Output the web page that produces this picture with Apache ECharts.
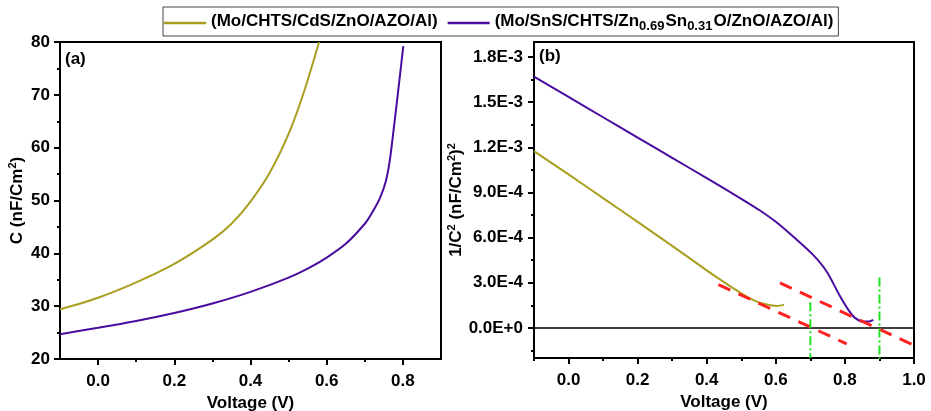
<!DOCTYPE html>
<html><head><meta charset="utf-8">
<script src="https://cdn.jsdelivr.net/npm/echarts@6/dist/echarts.min.js"></script>
<style>html,body{margin:0;padding:0;background:#fff}#c{width:931px;height:411px}</style>
</head><body><div id="c"></div>
<script>
// Panel (a): C-V
const aX_CdS = [-0.1, 0.0, 0.1, 0.2, 0.3, 0.35, 0.4, 0.45, 0.5, 0.54, 0.58];
const aC_CdS = [29.4, 31.6, 34.5, 38.0, 42.6, 45.6, 49.8, 55.2, 62.6, 70.5, 80.0];
const aX_SnS = [-0.1, 0.0, 0.1, 0.2, 0.3, 0.4, 0.5, 0.55, 0.6, 0.65, 0.7, 0.72, 0.74, 0.755, 0.765, 0.775, 0.788, 0.801];
const aC_SnS = [24.7, 25.9, 27.2, 28.7, 30.5, 32.7, 35.4, 37.1, 39.2, 41.8, 45.6, 47.8, 50.5, 53.6, 57.3, 63.0, 71.0, 79.2];
// Panel (b): 1/C^2 - V
const bX_CdS = [-0.1, 0.0, 0.1, 0.2, 0.3, 0.4, 0.45, 0.5, 0.54, 0.574, 0.603, 0.624];
const bY_CdS = [1.175e-3, 1.02e-3, 8.62e-4, 7.05e-4, 5.45e-4, 3.82e-4, 3.04e-4, 2.3e-4, 1.8e-4, 1.55e-4, 1.46e-4, 1.53e-4];
const bX_SnS = [-0.1, 0.0, 0.1, 0.2, 0.3, 0.4, 0.5, 0.554, 0.6, 0.651, 0.708, 0.747, 0.786, 0.81, 0.83, 0.853, 0.87, 0.882];
const bY_SnS = [1.67e-3, 1.535e-3, 1.40e-3, 1.265e-3, 1.13e-3, 9.95e-4, 8.58e-4, 7.8e-4, 7.05e-4, 6.05e-4, 4.85e-4, 3.75e-4, 2.1e-4, 1.2e-4, 6.5e-5, 4.2e-5, 4.3e-5, 5.3e-5];
// Tangent (extrapolation) lines and intercept markers
const tanCdS_X = [0.434, 0.805];
const tanCdS_Y = [2.88e-4, -1.06e-4];
const tanSnS_X = [0.612, 1.0];
const tanSnS_Y = [2.99e-4, -1.16e-4];
const vbiCdS_X = [0.7, 0.7];
const vbiCdS_Y = [1.7e-4, -2e-4];
const vbiSnS_X = [0.9, 0.9];
const vbiSnS_Y = [3.35e-4, -2.1e-4];
const zeroX = [-0.1, 1.0];
const zeroY = [0, 0];
// Ticks
const aXLabels = [0.0, 0.2, 0.4, 0.6, 0.8];
const aXMinor = [0.1, 0.3, 0.5, 0.7];
const bXLabels = [0.0, 0.2, 0.4, 0.6, 0.8, 1.0];
const bXMinor = [-0.1, 0.1, 0.3, 0.5, 0.7, 0.9];
const bYLabels = [0, 3e-4, 6e-4, 9e-4, 1.2e-3, 1.5e-3, 1.8e-3];
const bYMinor = [-1.5e-4, 1.5e-4, 4.5e-4, 7.5e-4, 1.05e-3, 1.35e-3, 1.65e-3];

const NAME1 = '(Mo/CHTS/CdS/ZnO/AZO/Al)';
const NAME2 = '(Mo/SnS/CHTS/Zn0.69Sn0.31O/ZnO/AZO/Al)';
const OLIVE = '#a99f1f';
const PURPLE = '#4a0c9f';
const FONT = 'Liberation Sans, Arial, sans-serif';
const FS = 17;

const zip = (xs, ys) => xs.map((x, i) => [x, ys[i]]);
function sci(v) {
  if (Math.abs(v) < 1e-12) return '0.0E+0';
  let e = Math.floor(Math.log10(Math.abs(v)) + 1e-9);
  let m = v / Math.pow(10, e);
  return m.toFixed(1) + 'E' + (e < 0 ? '-' : '+') + Math.abs(e);
}
const lbl = {fontFamily: FONT, fontWeight: 'bold', fontSize: FS, color: '#000'};
const axLine = {show: true, onZero: false, lineStyle: {color: '#000', width: 2}};
const noLine = {show: false, onZero: false};
const supRich = {
  n: Object.assign({lineHeight: 20}, lbl),
  p: {fontFamily: FONT, fontWeight: 'bold', fontSize: 11, lineHeight: 11, verticalAlign: 'top', color: '#000'}
};

const chart = echarts.init(document.getElementById('c'), null, {renderer: 'canvas'});
chart.setOption({
  animation: false,
  backgroundColor: '#fff',
  legend: {
    left: 163, top: 7,
    padding: [3, 5, 3, 1],
    itemGap: 10,
    itemWidth: 42, itemHeight: 2.5,
    borderColor: '#444', borderWidth: 1,
    data: [{name: NAME1, icon: 'rect'}, {name: NAME2, icon: 'rect'}],
    formatter: function (n) {
      if (n === NAME1) return '{n|' + NAME1 + '}';
      return '{n|(Mo/SnS/CHTS/Zn}{s|0.69}{n|Sn}{s|0.31}{n|O/ZnO/AZO/Al)}';
    },
    textStyle: Object.assign({
      rich: {
        n: Object.assign({lineHeight: 20, verticalAlign: 'top'}, lbl),
        s: {fontFamily: FONT, fontWeight: 'bold', fontSize: 13, lineHeight: 12, verticalAlign: 'bottom', padding: [10, 1, 0, 0], color: '#000'}
      }
    }, lbl)
  },
  grid: [
    {left: 60, top: 42, width: 381, height: 317, outerBoundsMode: 'none', containLabel: false, show: true, borderColor: '#000', borderWidth: 2, backgroundColor: 'transparent'},
    {left: 534, top: 42, width: 380, height: 316, outerBoundsMode: 'none', containLabel: false, show: true, borderColor: '#000', borderWidth: 2, backgroundColor: 'transparent'}
  ],
  xAxis: [
    {gridIndex: 0, type: 'value', min: -0.1, max: 0.9, position: 'bottom',
     axisLine: axLine, splitLine: {show: false},
     axisTick: {show: true, length: 6, customValues: aXLabels, lineStyle: {width: 2, color: '#000'}},
     axisLabel: Object.assign({customValues: aXLabels, margin: 14, formatter: v => v.toFixed(1)}, lbl),
     name: 'Voltage (V)', nameLocation: 'middle', nameGap: 34, nameTextStyle: lbl},
    {gridIndex: 1, type: 'value', min: -0.1, max: 1.0, position: 'bottom',
     axisLine: axLine, splitLine: {show: false},
     axisTick: {show: true, length: 6, customValues: bXLabels, lineStyle: {width: 2, color: '#000'}},
     axisLabel: Object.assign({customValues: bXLabels, margin: 14, formatter: v => v.toFixed(1)}, lbl),
     name: 'Voltage (V)', nameLocation: 'middle', nameGap: 34, nameTextStyle: lbl},
    {gridIndex: 0, type: 'value', min: -0.1, max: 0.9, position: 'bottom',
     axisLine: noLine, splitLine: {show: false}, axisLabel: {show: false},
     axisTick: {show: true, length: 3, customValues: aXMinor, lineStyle: {width: 2, color: '#000'}}},
    {gridIndex: 1, type: 'value', min: -0.1, max: 1.0, position: 'bottom',
     axisLine: noLine, splitLine: {show: false}, axisLabel: {show: false},
     axisTick: {show: true, length: 3, customValues: bXMinor, lineStyle: {width: 2, color: '#000'}}}
  ],
  yAxis: [
    {gridIndex: 0, type: 'value', min: 20, max: 80, interval: 10, position: 'left',
     axisLine: axLine, splitLine: {show: false},
     axisTick: {show: true, length: 6, lineStyle: {width: 2, color: '#000'}},
     minorTick: {show: true, splitNumber: 2, length: 3, lineStyle: {width: 2, color: '#000'}},
     axisLabel: Object.assign({margin: 10}, lbl),
     name: '{n|C (nF/Cm}{p|2}{n|)}', nameLocation: 'middle', nameGap: 33,
     nameTextStyle: Object.assign({rich: supRich}, lbl)},
    {gridIndex: 1, type: 'value', min: -2e-4, max: 1.9e-3, position: 'left',
     axisLine: axLine, splitLine: {show: false},
     axisTick: {show: true, length: 6, customValues: bYLabels, lineStyle: {width: 2, color: '#000'}},
     axisLabel: Object.assign({customValues: bYLabels, margin: 11, formatter: sci}, lbl),
     name: '{n|1/C}{p|2}{n| (nF/Cm}{p|2}{n|)}{p|2}', nameLocation: 'middle', nameGap: 68,
     nameTextStyle: Object.assign({rich: supRich}, lbl)},
    {gridIndex: 1, type: 'value', min: -2e-4, max: 1.9e-3, position: 'left',
     axisLine: noLine, splitLine: {show: false}, axisLabel: {show: false},
     axisTick: {show: true, length: 3, customValues: bYMinor, lineStyle: {width: 2, color: '#000'}}}
  ],
  graphic: [
    {type: 'text', left: 65, top: 51, style: {text: '(a)', font: 'bold 17px ' + FONT, fill: '#000'}},
    {type: 'text', left: 539, top: 48, style: {text: '(b)', font: 'bold 17px ' + FONT, fill: '#000'}}
  ],
  series: [
    {name: NAME1, type: 'line', xAxisIndex: 0, yAxisIndex: 0, data: zip(aX_CdS, aC_CdS), smooth: 0.3,
     symbol: 'none', lineStyle: {color: OLIVE, width: 2}, itemStyle: {color: OLIVE}},
    {name: NAME2, type: 'line', xAxisIndex: 0, yAxisIndex: 0, data: zip(aX_SnS, aC_SnS), smooth: 0.3,
     symbol: 'none', lineStyle: {color: PURPLE, width: 2}, itemStyle: {color: PURPLE}},
    {type: 'line', xAxisIndex: 1, yAxisIndex: 1, data: zip(zeroX, zeroY), symbol: 'none',
     lineStyle: {color: '#000', width: 1.5}},
    {name: NAME1, type: 'line', xAxisIndex: 1, yAxisIndex: 1, data: zip(bX_CdS, bY_CdS), smooth: 0.3,
     symbol: 'none', lineStyle: {color: OLIVE, width: 2}, itemStyle: {color: OLIVE}},
    {name: NAME2, type: 'line', xAxisIndex: 1, yAxisIndex: 1, data: zip(bX_SnS, bY_SnS), smooth: 0.3,
     symbol: 'none', lineStyle: {color: PURPLE, width: 2}, itemStyle: {color: PURPLE}},
    {type: 'line', xAxisIndex: 1, yAxisIndex: 1, data: zip(tanCdS_X, tanCdS_Y), symbol: 'none',
     lineStyle: {color: '#ff2020', width: 3, type: [13, 9]}},
    {type: 'line', xAxisIndex: 1, yAxisIndex: 1, data: zip(tanSnS_X, tanSnS_Y), symbol: 'none',
     lineStyle: {color: '#ff2020', width: 3, type: [13, 9]}},
    {type: 'line', xAxisIndex: 1, yAxisIndex: 1, data: zip(vbiCdS_X, vbiCdS_Y), symbol: 'none',
     lineStyle: {color: '#22e022', width: 2, type: [9, 3, 2, 3]}},
    {type: 'line', xAxisIndex: 1, yAxisIndex: 1, data: zip(vbiSnS_X, vbiSnS_Y), symbol: 'none',
     lineStyle: {color: '#22e022', width: 2, type: [9, 3, 2, 3]}}
  ]
});
</script></body></html>
